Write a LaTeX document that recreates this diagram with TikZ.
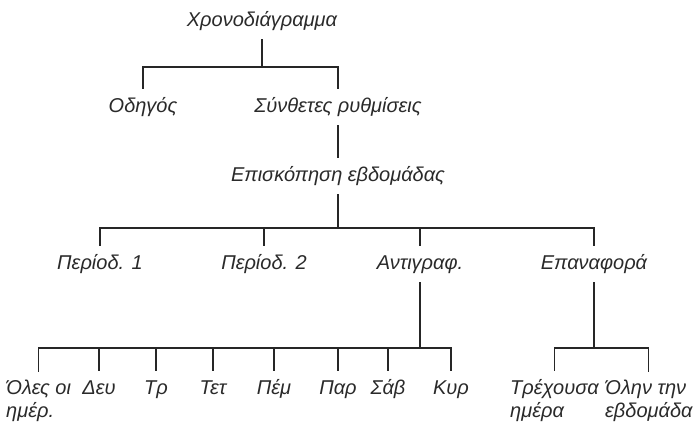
\documentclass[tikz,border=0pt]{standalone}
\usepackage{fontspec}
\setmainfont{Liberation Sans}
\usepackage{xcolor}
\definecolor{schLine}{HTML}{262626}
\definecolor{schText}{HTML}{2A2A2A}
\tikzset{
  lbl/.style={font=\itshape\fontsize{20}{23}\selectfont, text=schText,
    inner sep=0pt, outer ysep=8pt, text height=15pt, text depth=5pt},
  lbltwo/.style={font=\itshape\fontsize{20}{23}\selectfont, text=schText,
    inner sep=0pt, outer ysep=8pt, align=left},
  tree/.style={draw=schLine, line width=1.2pt},
}

\begin{document}
\begin{tikzpicture}[x=1pt, y=-1pt]
  \useasboundingbox (0,0) rectangle (698,426);
  % root and first level
  \node[lbl, anchor=base] (root) at (262,26) {Χρονοδιάγραμμα};
  \node[lbl, anchor=base] (odigos) at (143,112) {Οδηγός};
  \node[lbl, anchor=base] (synth) at (338,112) {Σύνθετες ρυθμίσεις};
  \node[lbl, anchor=base] (week) at (338,181) {Επισκόπηση εβδομάδας};
  % periods and actions
  \node[lbl, anchor=base] (per1) at (100,269) {Περίοδ. 1};
  \node[lbl, anchor=base] (per2) at (264,269) {Περίοδ. 2};
  \node[lbl, anchor=base] (copy) at (420,269) {Αντιγραφ.};
  \node[lbl, anchor=base] (reset) at (594,269) {Επαναφορά};
  % days
  \node[lbltwo, anchor=base west] (alldays) at (6,417) {Όλες οι\\ημέρ.};
  \node[lbl, anchor=base] (mon) at (99,394) {Δευ};
  \node[lbl, anchor=base] (tue) at (156,394) {Τρ};
  \node[lbl, anchor=base] (wed) at (213,394) {Τετ};
  \node[lbl, anchor=base] (thu) at (274,394) {Πέμ};
  \node[lbl, anchor=base] (fri) at (338,394) {Παρ};
  \node[lbl, anchor=base] (sat) at (388,394) {Σάβ};
  \node[lbl, anchor=base] (sun) at (451,394) {Κυρ};
  \node[lbltwo, anchor=base west] (today) at (510,417) {Τρέχουσα\\ημέρα};
  \node[lbltwo, anchor=base west] (wholewk) at (605,417) {Όλην την\\εβδομάδα};

  \foreach \c in {odigos,synth}
    \draw[tree] (root.south) -- ++(0,28) -| (\c.north);
  \draw[tree] (synth.south) -- (week.north);
  \foreach \c in {per1,per2,copy,reset}
    \draw[tree] (week.south) -- ++(0,34) -| (\c.north);
  \foreach \c in {alldays,mon,tue,wed,thu,fri,sat,sun}
    \draw[tree] (copy.south) -- ++(0,66) -| (\c.north);
  \foreach \c in {today,wholewk}
    \draw[tree] (reset.south) -- ++(0,66) -| (\c.north);
\end{tikzpicture}
\end{document}
